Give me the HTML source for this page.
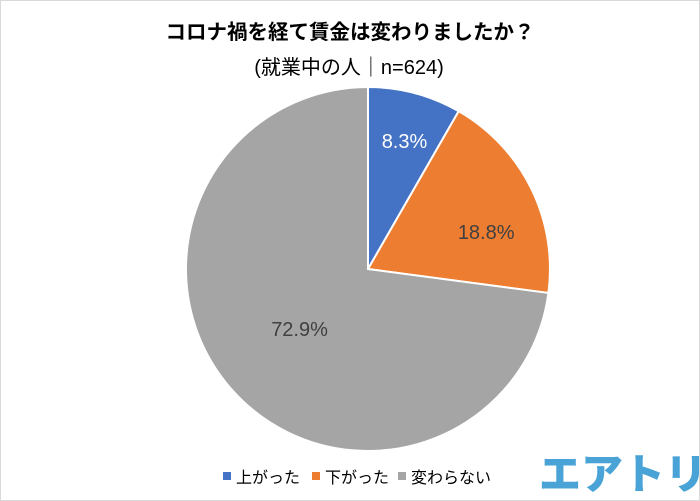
<!DOCTYPE html>
<html><head><meta charset="utf-8"><style>
body{margin:0;background:#fff}
#wrap{position:relative;width:698px;height:499px;border:1px solid #d9d9d9;background:#fff;overflow:hidden;font-family:"Liberation Sans","Noto Sans CJK JP",sans-serif}
</style></head><body>
<div id="wrap">
<svg id="chart" width="698" height="499">
<text x="349" y="38" text-anchor="middle" font-size="20.5" font-weight="bold" fill="#000">コロナ禍を経て賃金は変わりましたか？</text>
<text x="348" y="73" text-anchor="middle" font-size="20" fill="#000">(就業中の人｜n=624)</text>
<g id="slices"></g>
<g id="labels"></g>
<g id="legend"></g>
<text x="622" y="488" text-anchor="middle" font-size="42" font-weight="900" fill="#4aa3d6" font-family="'Noto Sans CJK JP',sans-serif">エアトリ</text>
</svg>
</div>
<script>
const categories=["上がった","下がった","変わらない"];
const values=[8.3,18.8,72.9];
const colors=["#4472c4","#ed7d31","#a5a5a5"];
const ns="http://www.w3.org/2000/svg";
const cx=367,cy=268,r=182;
const total=values.reduce((a,b)=>a+b,0);
const gS=document.getElementById('slices'),gL=document.getElementById('labels'),gG=document.getElementById('legend');
let a0=-Math.PI/2;
const labelR=[0.73,0.68,0.5];
const labelShift=[1,9,0];
values.forEach((v,i)=>{
  const a1=a0+v/total*2*Math.PI;
  const x0=cx+r*Math.cos(a0),y0=cy+r*Math.sin(a0),x1=cx+r*Math.cos(a1),y1=cy+r*Math.sin(a1);
  const p=document.createElementNS(ns,'path');
  p.setAttribute('d',`M${cx},${cy}L${x0},${y0}A${r},${r} 0 ${a1-a0>Math.PI?1:0} 1 ${x1},${y1}Z`);
  p.setAttribute('fill',colors[i]);p.setAttribute('stroke','#fff');p.setAttribute('stroke-width','2');
  
  
  gS.appendChild(p);
  const am=(a0+a1)/2+labelShift[i]*Math.PI/180,lr=r*labelR[i];
  const t=document.createElementNS(ns,'text');
  t.setAttribute('x',cx+lr*Math.cos(am));t.setAttribute('y',cy+lr*Math.sin(am)+7);
  t.setAttribute('text-anchor','middle');t.setAttribute('font-size','20');
  t.setAttribute('fill',i==0?'#fff':'#404040');
  t.textContent=v.toFixed(1)+'%';
  
  
  gL.appendChild(t);
  a0=a1;
});
const lx=[222,311,397];
categories.forEach((c,i)=>{
  const s=document.createElementNS(ns,'rect');
  s.setAttribute('x',lx[i]);s.setAttribute('y',471);s.setAttribute('width',8);s.setAttribute('height',8);s.setAttribute('fill',colors[i]);
  
  
  gG.appendChild(s);
  const t=document.createElementNS(ns,'text');
  t.setAttribute('x',lx[i]+13);t.setAttribute('y',482);t.setAttribute('font-size','16');t.setAttribute('fill','#000');
  t.textContent=c;
  
  
  gG.appendChild(t);
});
</script>
</body></html>
